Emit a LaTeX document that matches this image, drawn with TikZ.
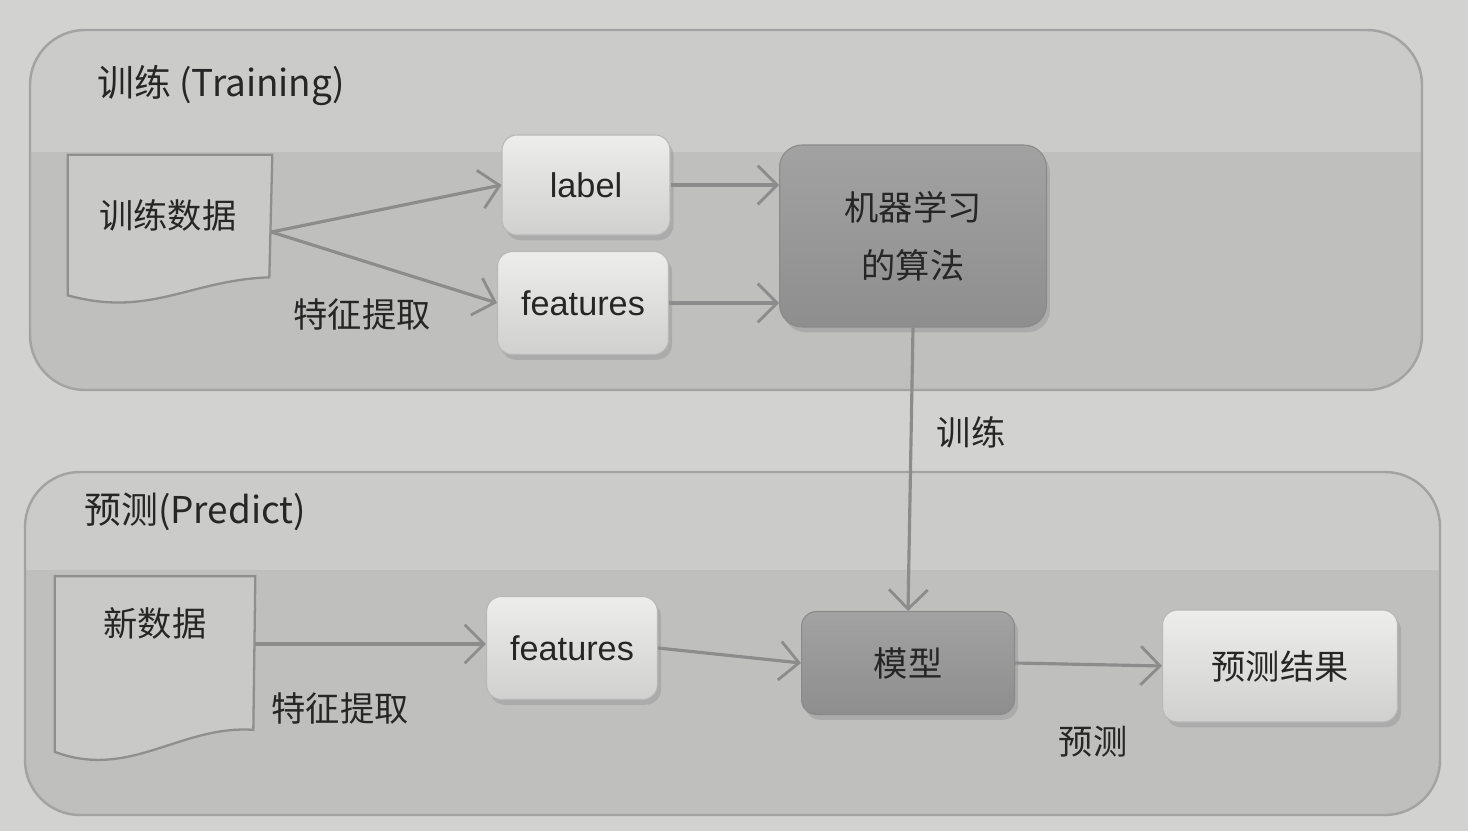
\documentclass[tikz,border=0pt]{standalone}
\usepackage{fontspec}
\setmainfont{Noto Sans CJK SC}
\newfontfamily\latinf{Liberation Sans}
\usetikzlibrary{arrows.meta,shadows,calc}
\definecolor{pagebg}{HTML}{D2D2D1}
\definecolor{panelfill}{HTML}{CBCBCA}
\definecolor{bandfill}{HTML}{BFBFBE}
\definecolor{panelline}{HTML}{A3A3A3}
\definecolor{boxtop}{HTML}{EDEDEC}
\definecolor{boxmid}{HTML}{E2E2E1}
\definecolor{boxbot}{HTML}{D0D0CF}
\definecolor{boxline}{HTML}{B8B8B8}
\definecolor{darktop}{HTML}{A2A2A2}
\definecolor{darkbot}{HTML}{8E8E8E}
\definecolor{darkline}{HTML}{8A8A8A}
\definecolor{docfill}{HTML}{C9C9C8}
\definecolor{docline}{HTML}{8F8F8F}
\definecolor{arrowc}{HTML}{8C8C8C}
\definecolor{textc}{HTML}{262626}
\begin{document}
\begin{tikzpicture}[x=0.02cm,y=-0.02cm,
  font=\fontsize{19.5}{23}\selectfont, text=textc,
  panelline/.style={draw=panelline,line width=1.4pt,rounded corners=1.1cm},
  lightbox/.style={rounded corners=0.3cm, top color=boxtop, middle color=boxmid, bottom color=boxbot,
     draw=boxline, line width=0.6pt, inner sep=0pt,
     drop shadow={opacity=0.3,shadow xshift=2pt,shadow yshift=-3pt}},
  darkbox/.style={rounded corners=0.45cm, top color=darktop, bottom color=darkbot,
     draw=darkline, line width=0.6pt, inner sep=0pt,
     drop shadow={opacity=0.3,shadow xshift=2pt,shadow yshift=-3pt}},
  docbox/.style={inner sep=0pt},
  docline/.style={draw=docline, line width=1.3pt, fill=docfill},
  conn/.style={draw=arrowc, line width=1.8pt,
     -{Straight Barb[length=11pt,width=22pt,line width=1.6pt]}},
  lbl/.style={inner sep=0pt},
  title/.style={inner sep=0pt, anchor=west, font=\fontsize{21}{25}\selectfont}
]
\useasboundingbox[fill=pagebg] (0,0) rectangle (1468,831);

% ---- training panel
\begin{scope}
  \clip[rounded corners=1.1cm] (30,30) rectangle (1422,390);
  \fill[panelfill] (0,0) rectangle (1468,400);
  \fill[bandfill] (0,152) rectangle (1468,400);
\end{scope}
\draw[panelline] (30,30) rectangle (1422,390);
\node[title] (t1) at (97,86) {训练 (Training)};

% ---- predict panel
\begin{scope}
  \clip[rounded corners=1.1cm] (25,472) rectangle (1440,815);
  \fill[panelfill] (0,460) rectangle (1468,831);
  \fill[bandfill] (0,570) rectangle (1468,831);
\end{scope}
\draw[panelline] (25,472) rectangle (1440,815);
\node[title] (t2) at (84,512) {预测(Predict)};

% ---- training data document
\node[docbox, minimum width=4.08cm, minimum height=2.8cm] (doc1) at (170,225) {};
\draw[docline] (doc1.north west) -- (doc1.north east) -- ($(doc1.south east)+(-3,-18)$)
  .. controls (190,280) and (150,318) .. (doc1.south west) -- cycle;
\node[lbl] (doc1t) at (168,215) {训练数据};
\coordinate (d1out) at ($(doc1.east)+(-1,7)$);

% ---- training boxes
\node[lightbox, minimum width=3.36cm, minimum height=2.0cm] (label) at (586,185) {\latinf label};
\node[lightbox, minimum width=3.42cm, minimum height=2.06cm] (feat1) at (583,303) {\latinf features};
\node[darkbox, minimum width=5.34cm, minimum height=3.64cm, align=center] (algo) at (913,236)
  {机器学习\\[10pt]的算法};

\draw[conn] (d1out) -- (label.west);
\draw[conn] (d1out) -- (feat1.west);
\draw[conn] (label.east) -- (label.east -| algo.west);
\draw[conn] (feat1.east) -- (feat1.east -| algo.west);
\node[lbl] (fx1) at (362,314) {特征提取};

% ---- predict document
\node[docbox, minimum width=4.0cm, minimum height=3.5cm] (doc2) at (155,664) {};
\draw[docline] (doc2.north west) -- (doc2.north east) -- ($(doc2.south east)+(-2,-22)$)
  .. controls (180,725) and (130,780) .. (doc2.south west) -- cycle;
\node[lbl] (doc2t) at (155,623) {新数据};

% ---- predict boxes
\node[lightbox, minimum width=3.42cm, minimum height=2.06cm] (feat2) at (572,648) {\latinf features};
\node[darkbox, rounded corners=0.3cm, minimum width=4.26cm, minimum height=2.06cm] (model) at (908,663) {模型};
\node[lightbox, minimum width=4.7cm, minimum height=2.24cm] (result) at (1280,666) {预测结果};

\coordinate (d2out) at ($(doc2.east)+(0,-20)$);
\draw[conn] (d2out) -- (d2out -| feat2.west);
\draw[conn] (feat2.east) -- (model.west);
\draw[conn] (model.east) -- (result.west);
\draw[conn] (algo.south) -- (model.north);

\node[lbl] (fx2) at (340,708) {特征提取};
\node[lbl] (trn) at (971,432) {训练};
\node[lbl] (prd) at (1093,742) {预测};
\end{tikzpicture}
\end{document}
